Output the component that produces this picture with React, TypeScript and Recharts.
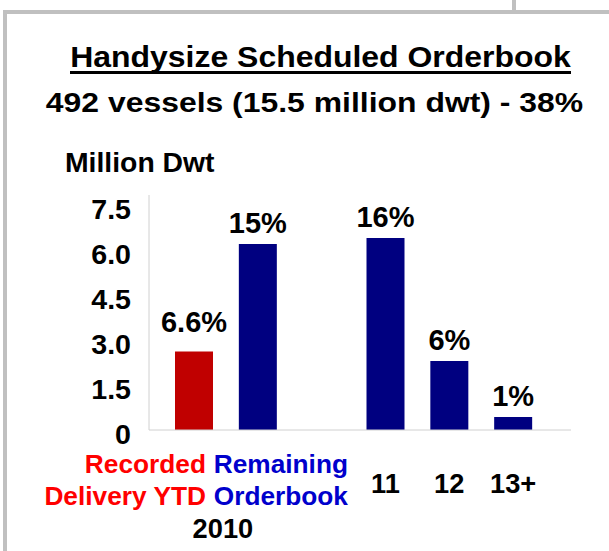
import React from "react";
import { BarChart, Bar, XAxis, YAxis, Cell, LabelList } from "recharts";

// values (million dwt)
const categories = ["Recorded Delivery YTD", "Remaining Orderbook", "", "11", "12", "13+"];
const dwt = [2.62, 6.2, null, 6.4, 2.3, 0.43];
const shares = ["6.6%", "15%", "", "16%", "6%", "1%"];
const tickLines = [["Recorded", "Delivery YTD"], ["Remaining", "Orderbook"], [], ["11"], ["12"], ["13+"]];
const yearLabel = "2010";
const yTicks = [0, 1.5, 3, 4.5, 6, 7.5];

const barColors = ["#c00000", "#000080", "#000080", "#000080", "#000080", "#000080"];
const FONT = "'Liberation Sans', Arial, Helvetica, sans-serif";

const data = categories.map((cat, i) => ({ cat, dwt: dwt[i], share: shares[i] }));

function SText({ x, y, anchor = "middle", size, sx = 1, fill = "#000", children }: any) {
  return (
    <text
      transform={`translate(${x},${y}) scale(${sx},1)`}
      textAnchor={anchor}
      fontSize={size}
      fontWeight="bold"
      fontFamily={FONT}
      fill={fill}
    >
      {children}
    </text>
  );
}

const YTick = (props: any) => {
  const { x, y, payload } = props;
  const v = payload.value;
  return (
    <SText x={x} y={y + 14} anchor="end" size={27} sx={1.06}>
      {v === 0 ? "0" : v.toFixed(1)}
    </SText>
  );
};

const XTick = (props: any) => {
  const { x, y, index } = props;
  const lines = tickLines[index] || [];
  if (index === 0) {
    return (
      <g>
        <SText x={x + 12} y={y + 43} anchor="end" size={26} sx={1.01} fill="#ff0000">{lines[0]}</SText>
        <SText x={x + 12} y={y + 75} anchor="end" size={26} sx={1.01} fill="#ff0000">{lines[1]}</SText>
        <SText x={x + 29} y={y + 108} size={27} sx={1.01}>{yearLabel}</SText>
      </g>
    );
  }
  if (index === 1) {
    return (
      <g>
        <SText x={x - 44} y={y + 43} anchor="start" size={26} sx={1.01} fill="#0000cc">{lines[0]}</SText>
        <SText x={x - 44} y={y + 75} anchor="start" size={26} sx={1.01} fill="#0000cc">{lines[1]}</SText>
      </g>
    );
  }
  if (!lines.length) return null;
  return (
    <SText x={x} y={y + 63} size={27} sx={1.01}>{lines[0]}</SText>
  );
};

const ShareLabel = (props: any) => {
  const { x, y, width, value, index } = props;
  if (!value) return null;
  const gap = index === 0 ? 19 : 11;
  return (
    <SText x={x + width / 2} y={y - gap} size={29} sx={1.0}>{value}</SText>
  );
};

export default function App() {
  return (
    <div style={{ position: "absolute", left: 0, top: 0, width: 609, height: 551, background: "#fff", overflow: "hidden" }}>
      <div style={{ position: "absolute", left: 3, top: 10, width: 606, height: 4, background: "#c0c0c0" }} />
      <div style={{ position: "absolute", left: 3, top: 10, width: 4, height: 541, background: "#c0c0c0" }} />
      <div style={{ position: "absolute", left: 512, top: 0, width: 4, height: 10, background: "#c0c0c0" }} />

      <div style={{ position: "absolute", left: 0, top: 0 }}>
        <BarChart
          width={609}
          height={551}
          data={data}
          margin={{ top: 195, right: 38, bottom: 21, left: 89 }}
        >
          <XAxis
            dataKey="cat"
            interval={0}
            height={100}
            padding={{ left: 13, right: 26 }}
            axisLine={{ stroke: "#d0d0d0" }}
            tickLine={false}
            tickSize={0}
            tickMargin={0}
            tick={<XTick />}
          />
          <YAxis
            width={60}
            domain={[0, 7.833]}
            ticks={yTicks}
            axisLine={{ stroke: "#d0d0d0" }}
            tickLine={false}
            tickSize={0}
            tickMargin={18}
            tick={<YTick />}
          />
          <Bar dataKey="dwt" barSize={38} isAnimationActive={false}>
            {data.map((d, i) => (
              <Cell key={i} fill={barColors[i]} />
            ))}
            <LabelList dataKey="share" content={<ShareLabel />} />
          </Bar>
        </BarChart>
      </div>

      <svg width={609} height={551} style={{ position: "absolute", left: 0, top: 0, pointerEvents: "none" }}>
        <SText x={320.5} y={67} size={30} sx={1.065}>Handysize Scheduled Orderbook</SText>
        <rect x={70} y={71} width={501} height={3} fill="#000" />
        <SText x={314.5} y={112} size={28.5} sx={1.12}>492 vessels (15.5 million dwt) - 38%</SText>
        <SText x={65} y={172} anchor="start" size={27} sx={1.05}>Million Dwt</SText>
      </svg>
    </div>
  );
}
